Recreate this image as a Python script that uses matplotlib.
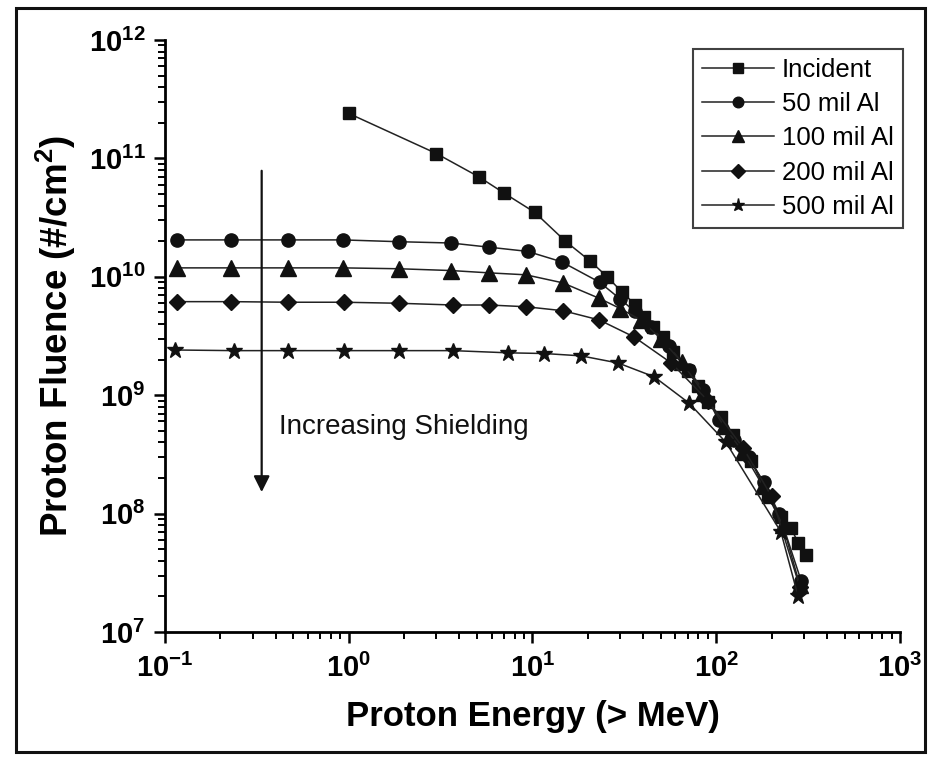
import matplotlib
matplotlib.use("Agg")
import matplotlib.pyplot as plt
from matplotlib.patches import Rectangle

plt.rcParams['font.family'] = ['Liberation Sans', 'DejaVu Sans']
plt.rcParams['mathtext.fontset'] = 'custom'
plt.rcParams['mathtext.rm'] = 'Liberation Sans:bold'
plt.rcParams['mathtext.bf'] = 'Liberation Sans:bold'
plt.rcParams['mathtext.it'] = 'Liberation Sans:bold'

# ---- data ----
incident_E = [1.0, 3.0, 5.1, 7.0, 10.3, 15.1, 20.6, 25.6, 30.8, 36.3, 40.5, 45.5,
              51.5, 58.4, 70, 80, 90, 106, 124, 155, 192, 225, 256, 280, 308]
incident_F = [2.4e11, 1.1e11, 7.0e10, 5.1e10, 3.5e10, 2.0e10, 1.36e10, 9.95e9, 7.4e9,
              5.8e9, 4.6e9, 3.8e9, 3.1e9, 2.3e9, 1.6e9, 1.2e9, 8.8e8, 6.5e8, 4.6e8,
              2.8e8, 1.38e8, 9.3e7, 7.5e7, 5.6e7, 4.5e7]

mil50_E = [0.116, 0.228, 0.466, 0.93, 1.87, 3.6, 5.8, 9.4, 14.4, 23.2, 30, 36, 44,
           55, 71, 85, 103, 125, 150, 181, 220, 290]
mil50_F = [2.05e10, 2.05e10, 2.05e10, 2.05e10, 1.98e10, 1.93e10, 1.78e10, 1.64e10,
           1.34e10, 9.0e9, 6.5e9, 5.1e9, 3.8e9, 2.6e9, 1.63e9, 1.1e9, 6.2e8, 4.2e8,
           3.0e8, 1.85e8, 1.0e8, 2.7e7]

mil100_E = [0.116, 0.228, 0.466, 0.93, 1.87, 3.6, 5.8, 9.2, 14.6, 23.0, 30, 39, 50,
            65, 85, 110, 140, 180, 230, 285]
mil100_F = [1.19e10, 1.19e10, 1.19e10, 1.19e10, 1.17e10, 1.13e10, 1.08e10, 1.04e10,
            8.9e9, 6.6e9, 5.4e9, 4.3e9, 3.0e9, 1.9e9, 1.05e9, 5.5e8, 3.3e8, 1.7e8,
            8.0e7, 2.5e7]

mil200_E = [0.116, 0.23, 0.47, 0.94, 1.87, 3.7, 5.8, 9.2, 14.7, 23.1, 35.8, 57, 90,
            140, 200, 285]
mil200_F = [6.17e9, 6.17e9, 6.1e9, 6.1e9, 5.98e9, 5.78e9, 5.78e9, 5.59e9, 5.17e9,
            4.32e9, 3.1e9, 1.87e9, 9.0e8, 3.6e8, 1.4e8, 2.4e7]

mil500_E = [0.113, 0.237, 0.466, 0.94, 1.87, 3.7, 7.4, 11.6, 18.4, 29.3, 46, 71,
            113, 225, 279]
mil500_F = [2.41e9, 2.38e9, 2.38e9, 2.38e9, 2.38e9, 2.38e9, 2.28e9, 2.25e9, 2.15e9,
            1.87e9, 1.43e9, 8.6e8, 4.0e8, 7.0e7, 2.0e7]

labels = ['Incident', '50 mil Al', '100 mil Al', '200 mil Al', '500 mil Al']
markers = ['s', 'o', '^', 'D', '*']
msizes = [9, 9.5, 11, 8.5, 12]

x_ticks = [1e-1, 1e0, 1e1, 1e2, 1e3]
x_ticklabels = ['$\\mathbf{10^{-1}}$', '$\\mathbf{10^{0}}$', '$\\mathbf{10^{1}}$',
                '$\\mathbf{10^{2}}$', '$\\mathbf{10^{3}}$']
y_ticks = [1e7, 1e8, 1e9, 1e10, 1e11, 1e12]
y_ticklabels = ['$\\mathbf{10^{7}}$', '$\\mathbf{10^{8}}$', '$\\mathbf{10^{9}}$',
                '$\\mathbf{10^{10}}$', '$\\mathbf{10^{11}}$', '$\\mathbf{10^{12}}$']

# ---- figure ----
fig = plt.figure(figsize=(9.41, 7.61), dpi=100)
ax = fig.add_axes([0.1753, 0.1695, 0.7811, 0.7779])

series = [(incident_E, incident_F), (mil50_E, mil50_F), (mil100_E, mil100_F),
          (mil200_E, mil200_F), (mil500_E, mil500_F)]
for (E, F), lab, m, ms in zip(series, labels, markers, msizes):
    ax.plot(E, F, color='#222222', lw=1.1, marker=m, ms=ms, mfc='#111111',
            mec='#111111', label=lab)

ax.set_xscale('log')
ax.set_yscale('log')
ax.set_xlim(1e-1, 1e3)
ax.set_ylim(1e7, 1e12)
ax.set_xticks(x_ticks)
ax.set_xticklabels(x_ticklabels)
ax.set_yticks(y_ticks)
ax.set_yticklabels(y_ticklabels)

for s in ['top', 'right']:
    ax.spines[s].set_visible(False)
for s in ['left', 'bottom']:
    ax.spines[s].set_linewidth(2.0)

ax.tick_params(axis='both', which='major', direction='out', length=8, width=1.8,
               labelsize=21)
ax.tick_params(axis='both', which='minor', direction='out', length=5, width=1.4)
ax.tick_params(axis='x', pad=8)
ax.tick_params(axis='y', pad=6)

ax.set_xlabel('Proton Energy (> MeV)', fontsize=25, fontweight='bold', labelpad=12)
ax.set_ylabel('Proton Fluence (#/cm$^2$)', fontsize=26.5, fontweight='bold', labelpad=8)

leg = ax.legend(loc='upper right', bbox_to_anchor=(1.004, 0.985), fontsize=18.5,
                frameon=True, fancybox=False, edgecolor='#111111',
                handlelength=2.8, handletextpad=0.3, labelspacing=0.4,
                borderpad=0.35, borderaxespad=0.0, markerscale=0.8)
leg.get_frame().set_linewidth(1.5)

# arrow and annotation
ax.annotate('', xy=(0.336, 1.44e8), xytext=(0.336, 8.3e10),
            arrowprops=dict(arrowstyle='-|>', color='#111111', lw=1.6,
                            mutation_scale=24))
ax.text(0.42, 5.4e8, 'Increasing Shielding', fontsize=20, va='center', ha='left',
        color='#111111')

# outer border
fig.patches.append(Rectangle((0.017, 0.012), 0.966, 0.977, transform=fig.transFigure,
                             fill=False, edgecolor='#111111', lw=2.2))

fig.savefig('out.png', dpi=100)
